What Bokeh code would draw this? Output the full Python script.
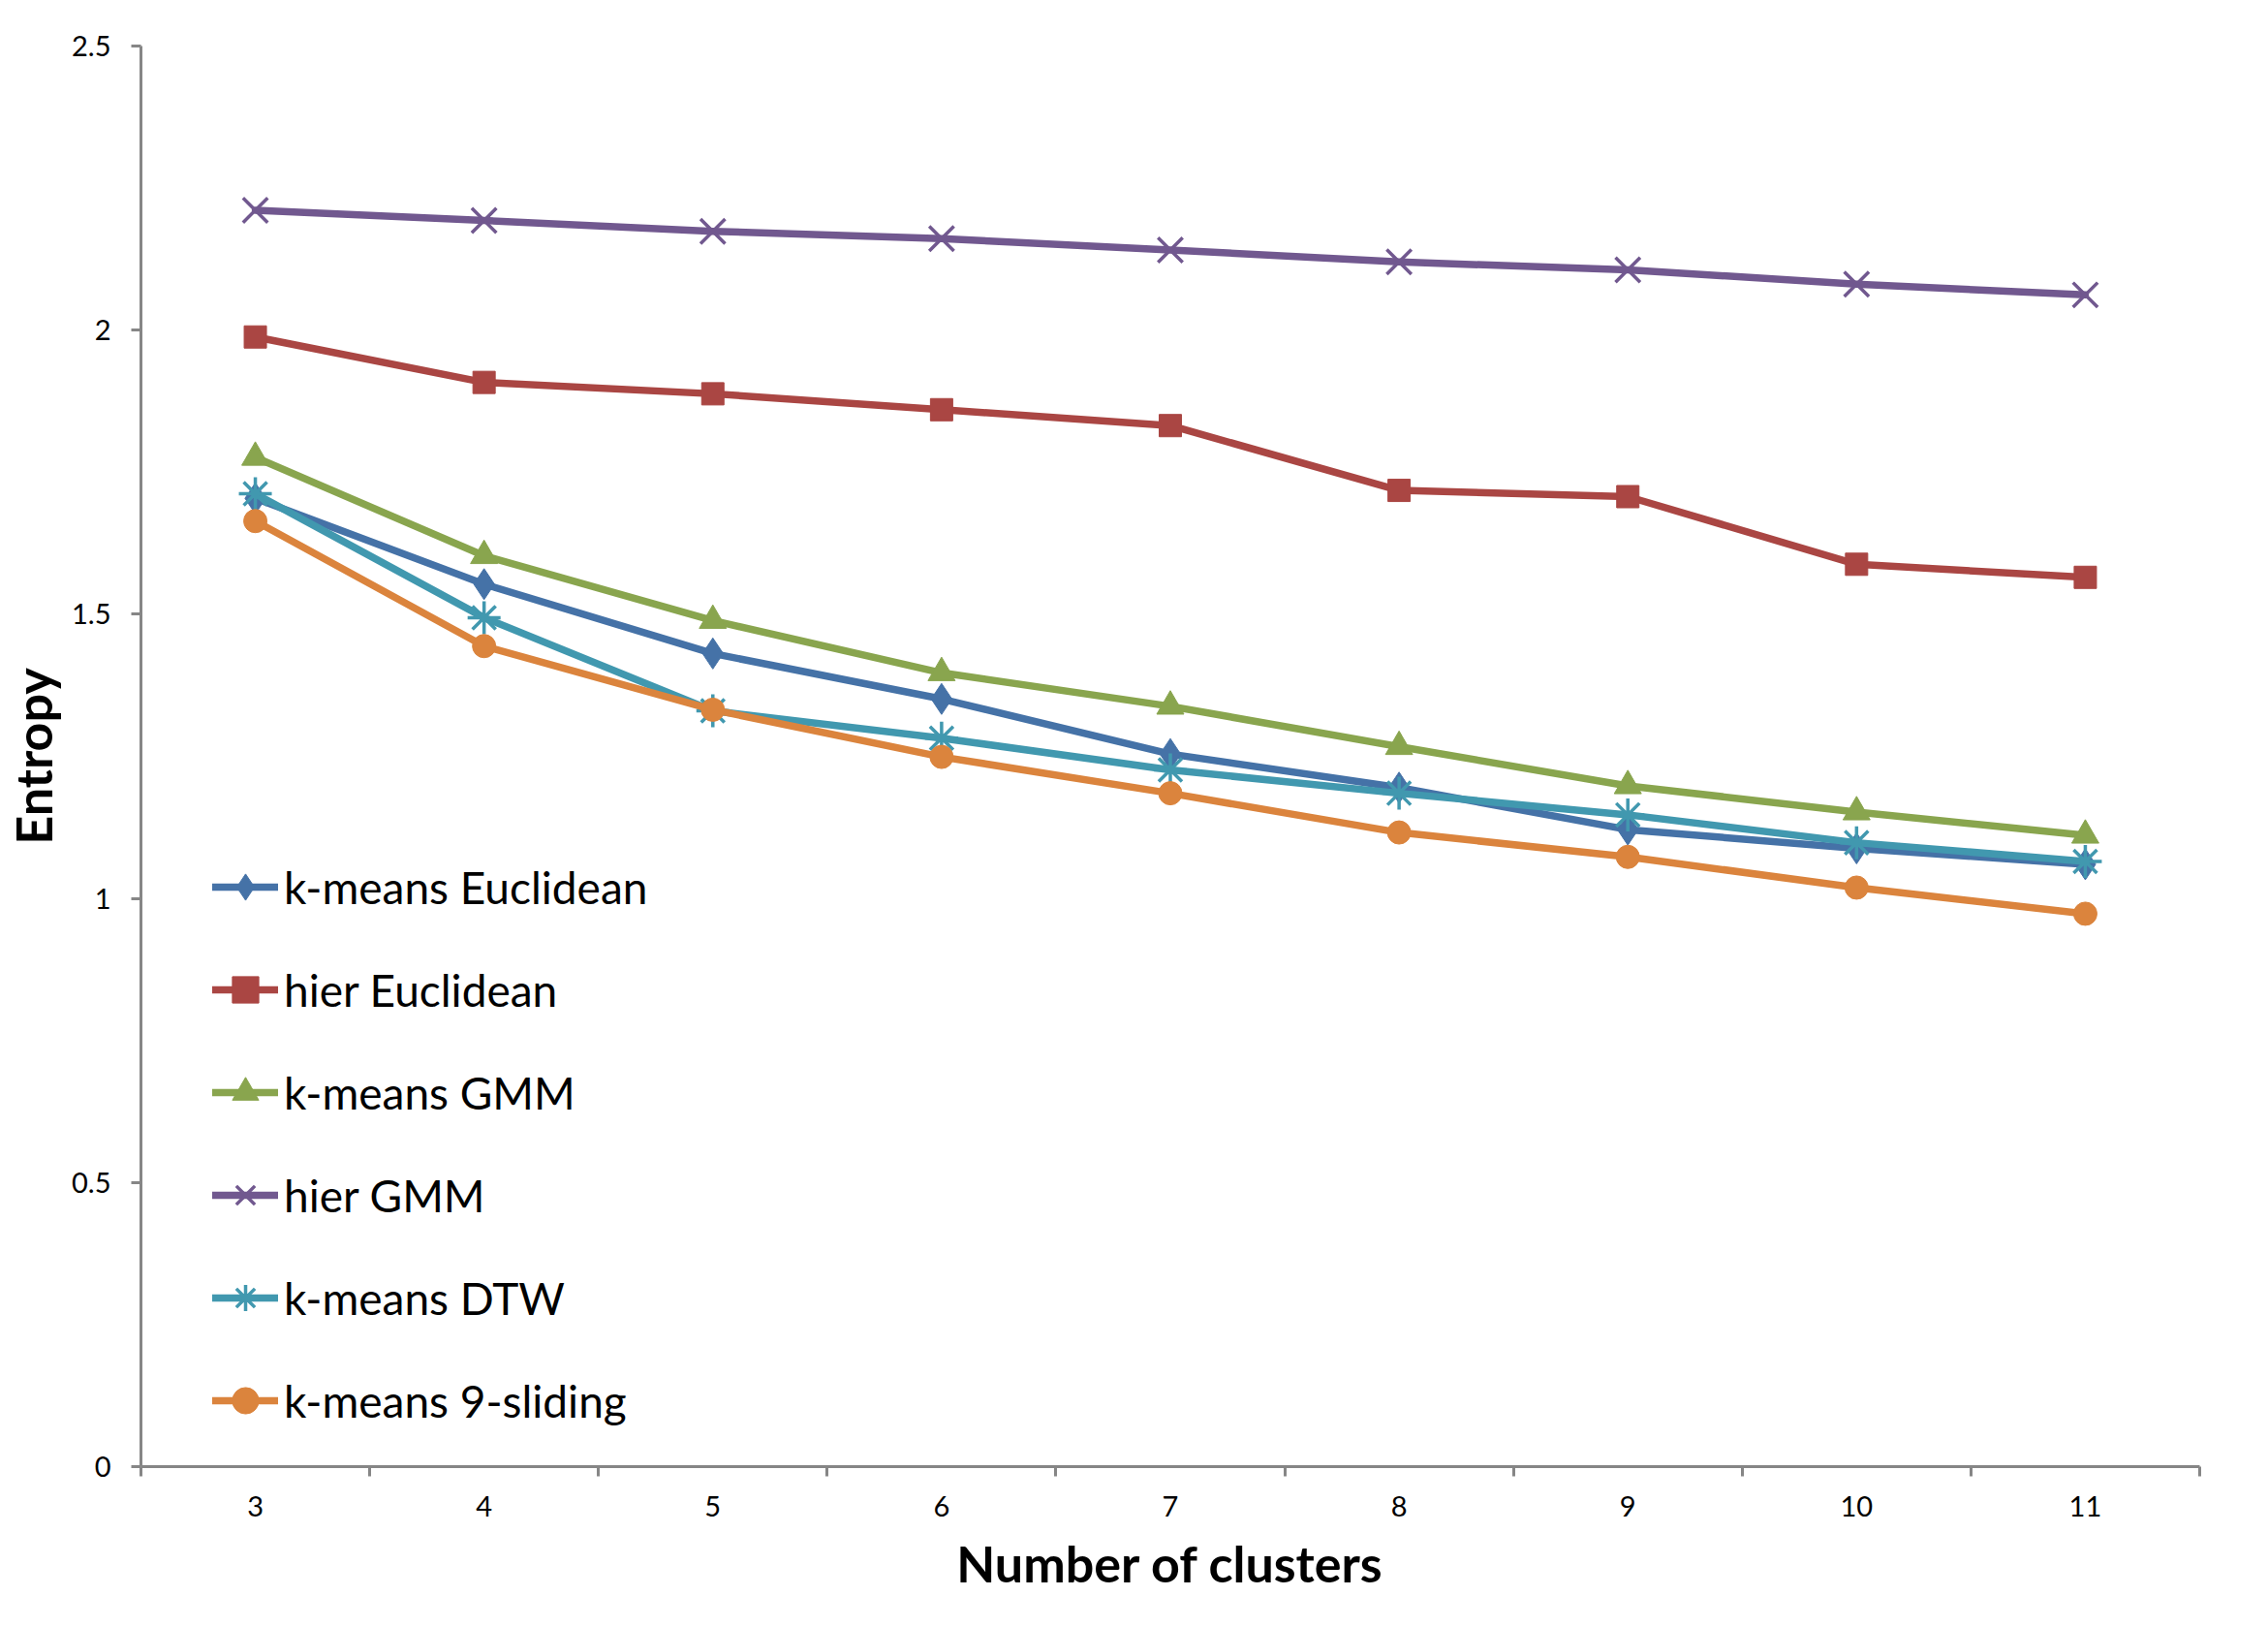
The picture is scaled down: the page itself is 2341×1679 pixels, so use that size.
from bokeh.plotting import figure
from bokeh.models import FixedTicker, Range1d, Legend
from bokeh.embed import file_html
from bokeh.resources import INLINE

clusters = [3, 4, 5, 6, 7, 8, 9, 10, 11]
tick_labels = ["3", "4", "5", "6", "7", "8", "9", "10", "11"]

kmeans_euclidean = [1.704, 1.553, 1.431, 1.351, 1.254, 1.195, 1.121, 1.088, 1.060]
hier_euclidean = [1.988, 1.908, 1.888, 1.860, 1.832, 1.718, 1.707, 1.588, 1.565]
kmeans_gmm = [1.776, 1.603, 1.489, 1.397, 1.338, 1.267, 1.198, 1.152, 1.111]
hier_gmm = [2.211, 2.193, 2.174, 2.161, 2.141, 2.120, 2.106, 2.081, 2.062]
kmeans_dtw = [1.712, 1.494, 1.330, 1.282, 1.226, 1.185, 1.147, 1.098, 1.065]
kmeans_sliding = [1.664, 1.444, 1.332, 1.249, 1.185, 1.116, 1.073, 1.019, 0.973]

series = [
    ("k-means Euclidean", kmeans_euclidean, "#4572A7", "diamond", 32),
    ("hier Euclidean", hier_euclidean, "#AA4643", "square", 23),
    ("k-means GMM", kmeans_gmm, "#89A54E", "triangle", 28),
    ("hier GMM", hier_gmm, "#71588F", "x", 36),
    ("k-means DTW", kmeans_dtw, "#4198AF", "asterisk", 34),
    ("k-means 9-sliding", kmeans_sliding, "#DB843D", "circle", 24),
]

FONT = "Lato"
AXIS_COLOR = "#868686"

p = figure(width=2325, height=1663, output_backend="svg", toolbar_location=None,
           x_range=Range1d(2.5, 11.5), y_range=Range1d(0, 2.5),
           min_border_left=144, min_border_right=55, min_border_top=47, min_border_bottom=150)
p.outline_line_color = None
p.xgrid.visible = False
p.ygrid.visible = False
p.background_fill_color = "white"
p.border_fill_color = "white"

items = []
for name, ys, color, marker, size in series:
    r1 = p.line(clusters, ys, line_color=color, line_width=7.5, line_cap="round", line_join="round")
    if marker in ("x", "asterisk"):
        r2 = p.scatter(clusters, ys, marker=marker, size=size, line_color=color, line_width=3.5,
                       fill_color=color)
    else:
        r2 = p.scatter(clusters, ys, marker=marker, size=size, line_color=color, fill_color=color,
                       line_width=1)
    items.append((name, [r1, r2]))

legend = Legend(items=items, location=(74, 23), orientation="vertical")
legend.padding = 0
legend.margin = 0
legend.border_line_alpha = 0
legend.background_fill_alpha = 0
legend.label_text_font = FONT
legend.label_text_font_size = "46px"
legend.label_text_color = "black"
legend.glyph_width = 68
legend.glyph_height = 90
legend.label_height = 90
legend.spacing = 16
legend.label_standoff = 6
p.add_layout(legend, "center")

# x axis
xa = p.xaxis[0]
xa.ticker = FixedTicker(ticks=clusters, minor_ticks=[2.5 + i for i in range(10)])
xa.major_label_overrides = {c: l for c, l in zip(clusters, tick_labels)}
xa.major_tick_out = 0
xa.major_tick_in = 0
xa.minor_tick_out = 10
xa.minor_tick_in = 0
xa.minor_tick_line_color = AXIS_COLOR
xa.minor_tick_line_width = 3
xa.axis_line_color = AXIS_COLOR
xa.axis_line_width = 3
xa.major_label_text_font = FONT
xa.major_label_text_font_size = "29px"
xa.major_label_text_color = "black"
xa.major_label_standoff = 20
xa.axis_label = "Number of clusters"
xa.axis_label_text_font = FONT
xa.axis_label_text_font_style = "bold"
xa.axis_label_text_font_size = "52px"
xa.axis_label_text_color = "black"
xa.axis_label_standoff = 14

# y axis
ya = p.yaxis[0]
ya.ticker = FixedTicker(ticks=[0, 0.5, 1, 1.5, 2, 2.5], minor_ticks=[])
ya.major_label_overrides = {0: "0", 0.5: "0.5", 1: "1", 1.5: "1.5", 2: "2", 2.5: "2.5"}
ya.major_tick_out = 10
ya.major_tick_in = 0
ya.major_tick_line_color = AXIS_COLOR
ya.major_tick_line_width = 3
ya.minor_tick_out = 0
ya.minor_tick_in = 0
ya.axis_line_color = AXIS_COLOR
ya.axis_line_width = 3
ya.major_label_text_font = FONT
ya.major_label_text_font_size = "29px"
ya.major_label_text_color = "black"
ya.major_label_standoff = 21
ya.axis_label = "Entropy"
ya.axis_label_text_font = FONT
ya.axis_label_text_font_style = "bold"
ya.axis_label_text_font_size = "52px"
ya.axis_label_text_color = "black"
ya.axis_label_standoff = 6

open("out.html", "w").write(file_html(p, INLINE))
